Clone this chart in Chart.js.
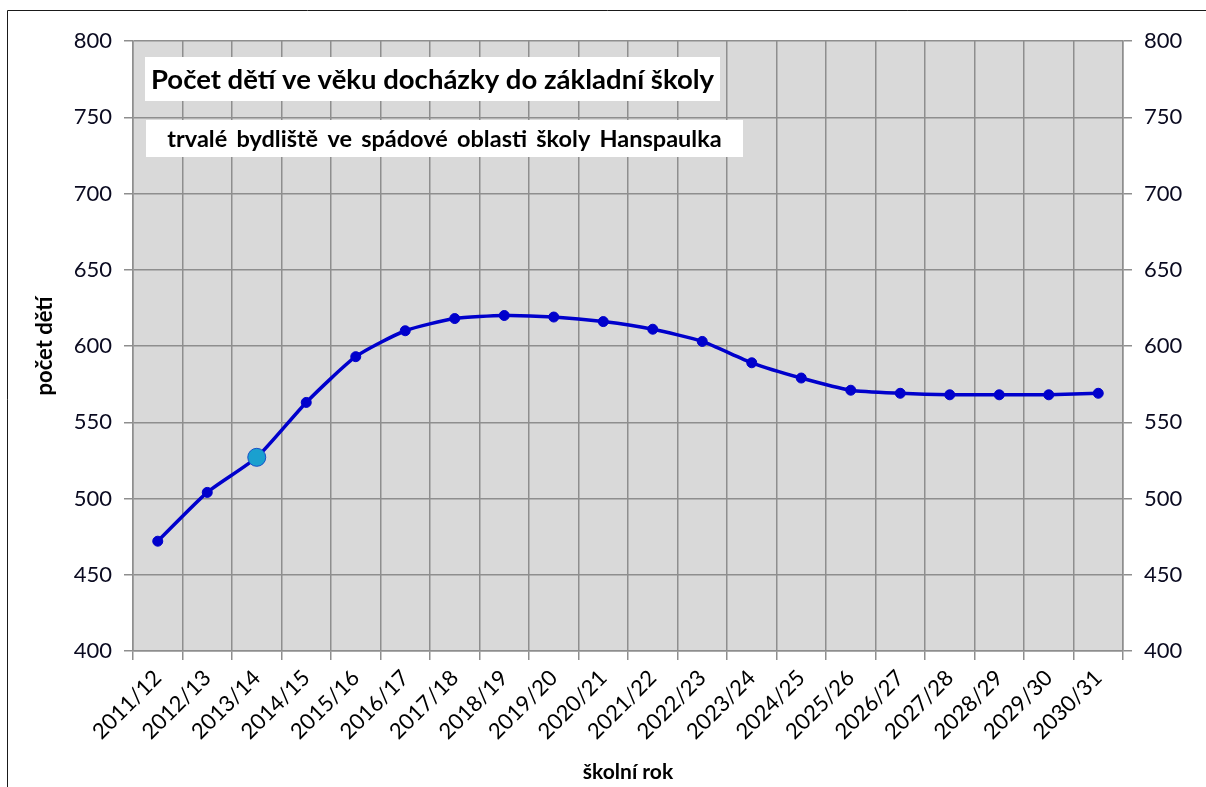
<!DOCTYPE html>
<html lang="cs">
<head>
<meta charset="utf-8">
<title>Počet dětí ve věku docházky do základní školy</title>
<script src="https://cdn.jsdelivr.net/npm/chart.js@4.4.1/dist/chart.umd.min.js"></script>
<style>
  html, body { margin: 0; padding: 0; background: #ffffff; }
  #wrap { position: relative; width: 1206px; height: 787px; }
  canvas { display: block; }
</style>
</head>
<body>
<div id="wrap"><canvas id="chart" width="1206" height="787"></canvas></div>
<script>
// School years on the horizontal axis
const schoolYears = [
  '2011/12', '2012/13', '2013/14', '2014/15', '2015/16',
  '2016/17', '2017/18', '2018/19', '2019/20', '2020/21',
  '2021/22', '2022/23', '2023/24', '2024/25', '2025/26',
  '2026/27', '2027/28', '2028/29', '2029/30', '2030/31'
];

// Number of children of primary-school age in each year
const childCount = [
  472, 504, 527, 563, 593,
  610, 618, 620, 619, 616,
  611, 603, 589, 579, 571,
  569, 568, 568, 568, 569
];

// Value axis range and step
const yTicks = { min: 400, max: 800, step: 50 };

// Year that is marked with the larger, lighter point (the current year)
const currentYearIndex = 2;

const chartTitle = 'Počet dětí ve věku docházky do základní školy';
const chartSubtitle = 'trvalé bydliště ve spádové oblasti školy Hanspaulka';
const xAxisTitle = 'školní rok';
const yAxisTitle = 'počet dětí';

const FONT = 'Lato, "Open Sans", "DejaVu Sans", sans-serif';
const GRID = '#8e8e8e';
const LINE = '#0000cc';

// Fills the plot area and frames the whole chart
const backgroundPlugin = {
  id: 'plotBackground',
  beforeDraw(chart) {
    const { ctx, chartArea: a } = chart;
    ctx.save();
    ctx.fillStyle = '#ffffff';
    ctx.fillRect(0, 0, chart.width, chart.height);
    ctx.fillStyle = '#d9d9d9';
    ctx.fillRect(a.left, a.top, a.right - a.left, a.bottom - a.top);
    ctx.strokeStyle = '#1a1a1a';
    ctx.lineWidth = 1;
    ctx.beginPath();
    ctx.moveTo(7.5, chart.height + 2);
    ctx.lineTo(7.5, 10.5);
    ctx.lineTo(chart.width + 2, 10.5);
    ctx.stroke();
    ctx.restore();
  }
};

// White label boxes with the heading texts inside the plot
const headingPlugin = {
  id: 'headingBoxes',
  afterDraw(chart, args, opts) {
    const { ctx } = chart;
    ctx.save();
    for (const b of opts.boxes) {
      ctx.fillStyle = '#ffffff';
      ctx.fillRect(b.x, b.y, b.w, b.h);
      ctx.fillStyle = '#000000';
      ctx.font = b.font;
      if ('wordSpacing' in ctx) ctx.wordSpacing = b.wordSpacing || '0px';
      ctx.textAlign = 'center';
      ctx.textBaseline = 'middle';
      ctx.fillText(b.text, b.x + b.w / 2, b.y + b.h / 2 + 1);
    }
    ctx.restore();
  }
};

new Chart(document.getElementById('chart'), {
  type: 'line',
  data: {
    labels: schoolYears,
    datasets: [{
      label: yAxisTitle,
      data: childCount,
      borderColor: LINE,
      borderWidth: 3.5,
      tension: 0.2,
      pointRadius: ctx => ctx.dataIndex === currentYearIndex ? 9 : 5,
      pointBackgroundColor: ctx => ctx.dataIndex === currentYearIndex ? '#1aa0cf' : LINE,
      pointBorderColor: ctx => ctx.dataIndex === currentYearIndex ? '#1450c8' : LINE,
      pointBorderWidth: 1,
      yAxisID: 'y'
    }]
  },
  options: {
    responsive: false,
    animation: false,
    devicePixelRatio: 1,
    layout: { padding: { top: 41, left: 0, right: 0, bottom: 0 } },
    plugins: {
      legend: { display: false },
      tooltip: { enabled: false },
      headingBoxes: {
        boxes: [
          { text: chartTitle, x: 145, y: 57, w: 575, h: 44, font: 'bold 27.5px ' + FONT },
          { text: chartSubtitle, x: 146, y: 120, w: 597, h: 37, font: 'bold 23.5px ' + FONT, wordSpacing: '3.5px' }
        ]
      }
    },
    scales: {
      x: {
        type: 'category',
        offset: true,
        grid: { display: true, color: GRID, lineWidth: 1.5, offset: true, tickLength: 9, tickColor: GRID },
        border: { display: true, color: GRID, width: 1.5 },
        ticks: {
          minRotation: 45, maxRotation: 45, autoSkip: false,
          color: '#000000', font: { family: FONT, size: 22 }, padding: 5
        },
        title: {
          display: true, text: xAxisTitle, color: '#000000',
          font: { family: FONT, size: 21, weight: 'bold' },
          padding: { top: 0, bottom: 2 }
        },
        afterFit(scale) { scale.height = 136; }
      },
      y: {
        position: 'left',
        min: yTicks.min, max: yTicks.max,
        grid: { color: GRID, lineWidth: 1.5, tickLength: 9, tickColor: GRID },
        border: { display: true, color: GRID, width: 1.5 },
        ticks: { stepSize: yTicks.step, color: '#0a0a20', font: { family: FONT, size: 22 }, padding: 12 },
        title: {
          display: true, text: yAxisTitle, color: '#000000',
          font: { family: FONT, size: 22, weight: 'bold' },
          padding: { top: 32, bottom: 0 }
        },
        afterFit(scale) { scale.width = 133; }
      },
      y2: {
        position: 'right',
        min: yTicks.min, max: yTicks.max,
        grid: { drawOnChartArea: false, color: GRID, lineWidth: 1.5, tickLength: 9, tickColor: GRID },
        border: { display: true, color: GRID, width: 1.5 },
        ticks: { stepSize: yTicks.step, color: '#0a0a20', font: { family: FONT, size: 22 }, padding: 12 },
        afterFit(scale) { scale.width = 83; }
      }
    }
  },
  plugins: [backgroundPlugin, headingPlugin]
});
</script>
</body>
</html>
